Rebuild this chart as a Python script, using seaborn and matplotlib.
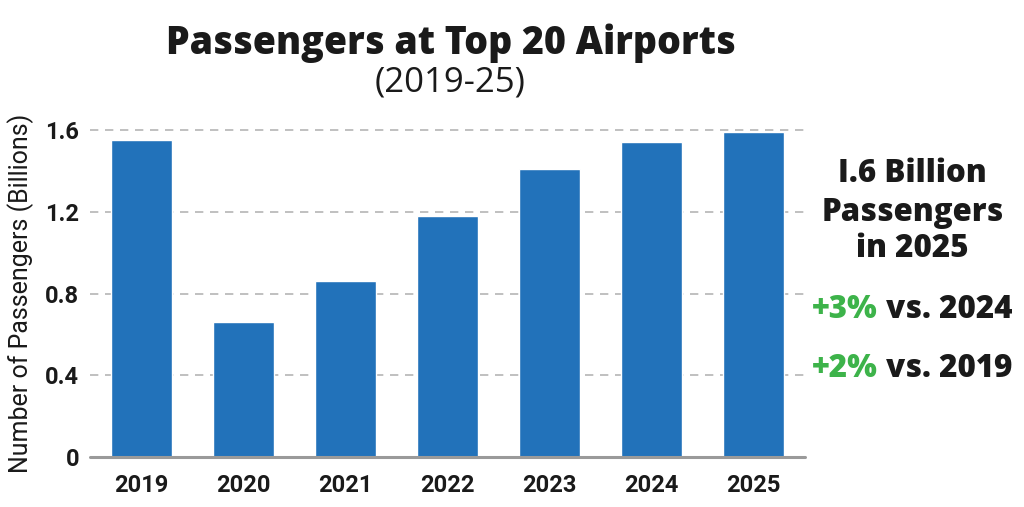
import numpy as np
import pandas as pd
import matplotlib.pyplot as plt
import seaborn as sns

# data
years = ["2019", "2020", "2021", "2022", "2023", "2024", "2025"]
passengers = [1.55, 0.66, 0.86, 1.18, 1.41, 1.54, 1.59]
y_ticks = [0, 0.4, 0.8, 1.2, 1.6]
y_tick_labels = ["0", "0.4", "0.8", "1.2", "1.6"]

df = pd.DataFrame({"year": years, "passengers": passengers})

sns.set_style("white")
plt.rcParams["font.family"] = ["Open Sans", "DejaVu Sans"]

blue = "#2272ba"
green = "#3db34a"
dark = "#1a1a1a"
cond = ["Roboto", "DejaVu Sans"]

fig = plt.figure(figsize=(10.24, 5.07), dpi=100)
ax = fig.add_axes([0.088, 0.0986, 0.698, 0.645])

sns.barplot(data=df, x="year", y="passengers", color=blue, saturation=1,
            width=0.6, ax=ax, zorder=3)

ax.set_xlim(-0.5, 6.5)
ax.set_ylim(0, 1.6)
ax.set_yticks(y_ticks)
ax.set_yticklabels(y_tick_labels)
for y in y_ticks[1:]:
    ax.axhline(y, color="#b5b5b5", lw=1.2, ls=(0, (5, 4)), zorder=1, clip_on=False)
ax.axhline(0, color="#9a9a9a", lw=2.2, zorder=4, clip_on=False)

for s in ax.spines.values():
    s.set_visible(False)
ax.tick_params(axis="both", length=0, pad=8)
for lab in ax.get_xticklabels() + ax.get_yticklabels():
    lab.set_family(cond)
    lab.set_fontweight("bold")
    lab.set_fontsize(17)
    lab.set_color(dark)
ax.tick_params(axis="x", pad=12)
ax.set_xlabel("")
ax.set_ylabel("Number of Passengers (Billions)", family=cond,
              fontsize=18, color=dark, labelpad=8)

# titles
fig.text(0.44, 0.915, "Passengers at Top 20 Airports", ha="center", va="center",
         fontsize=27, fontweight=800, color=dark)
fig.text(0.44, 0.838, "(2019-25)", ha="center", va="center",
         fontsize=25, color=dark)

# right side callouts
cx = 0.891
for txt, yy in [("I.6 Billion", 0.657), ("Passengers", 0.579), ("in 2025", 0.508)]:
    fig.text(cx, yy, txt, ha="center", va="center", fontsize=22.5,
             fontweight=800, color=dark)

fig.canvas.draw()
r = fig.canvas.get_renderer()
for g, b, yy in [("+3%", " vs. 2024", 0.388), ("+2%", " vs. 2019", 0.272)]:
    t1 = fig.text(0, yy, g, ha="left", va="center", fontsize=22.5,
                  fontweight=800, color=green)
    t2 = fig.text(0, yy, b, ha="left", va="center", fontsize=22.5,
                  fontweight=800, color=dark)
    w1 = t1.get_window_extent(r).width / fig.bbox.width
    w2 = t2.get_window_extent(r).width / fig.bbox.width
    x0 = cx - (w1 + w2) / 2
    t1.set_x(x0)
    t2.set_x(x0 + w1)

plt.savefig("out.png", dpi=100)
